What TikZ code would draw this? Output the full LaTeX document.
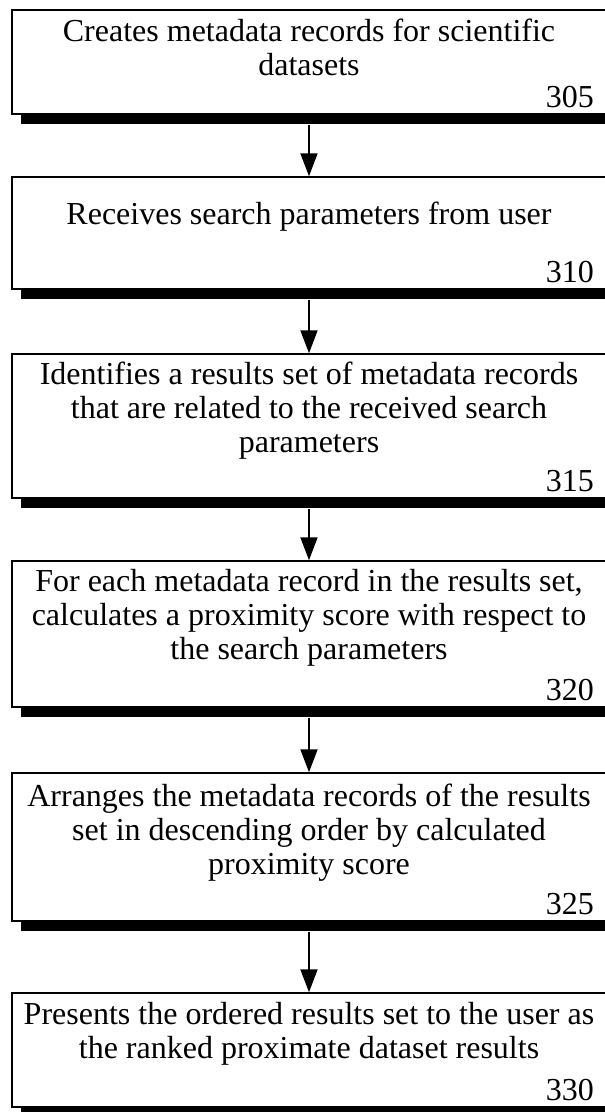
\documentclass[tikz,border=0pt]{standalone}
\usepackage{fontspec}
\setmainfont{Liberation Serif}
\usetikzlibrary{arrows.meta,shadows}
\tikzset{
  stepbox/.style={draw=black, line width=1.5pt, fill=white, minimum width=594pt,
    inner sep=0pt, drop shadow={shadow xshift=8.5pt, shadow yshift=-10pt, fill=black, opacity=1}},
  label/.style={anchor=base, inner sep=0pt, font=\fontsize{32}{34}\selectfont},
  refnum/.style={anchor=base east, inner sep=0pt, font=\fontsize{32}{34}\selectfont},
  flow/.style={line width=2pt, -{Triangle[width=17pt,length=23pt]}}
}
\begin{document}
\begin{tikzpicture}[x=1pt, y=-1pt]
\useasboundingbox (0,0) rectangle (605,1112);
\clip (0,0) rectangle (605,1112);

% process steps
\node[stepbox, minimum height=104pt] (b1) at (309,62) {};
\node[stepbox, minimum height=112pt] (b2) at (309,233) {};
\node[stepbox, minimum height=144pt] (b3) at (309,426) {};
\node[stepbox, minimum height=146pt] (b4) at (309,634) {};
\node[stepbox, minimum height=148pt] (b5) at (309,847) {};
\node[stepbox, minimum height=114pt] (b6) at (309,1050) {};

% step texts
\node[label] (t1a) at (309,41) {Creates metadata records for scientific};
\node[label] (t1b) at (309,75) {datasets};
\node[refnum] (n1) at (594,107) {305};

\node[label] (t2a) at (309,224) {Receives search parameters from user};
\node[refnum] (n2) at (594,282) {310};

\node[label] (t3a) at (309,384) {Identifies a results set of metadata records};
\node[label] (t3b) at (309,418) {that are related to the received search};
\node[label] (t3c) at (309,452) {parameters};
\node[refnum] (n3) at (594,491) {315};

\node[label] (t4a) at (309,591) {For each metadata record in the results set,};
\node[label] (t4b) at (309,625) {calculates a proximity score with respect to};
\node[label] (t4c) at (309,659) {the search parameters};
\node[refnum] (n4) at (594,700) {320};

\node[label] (t5a) at (309,806) {Arranges the metadata records of the results};
\node[label] (t5b) at (309,840) {set in descending order by calculated};
\node[label] (t5c) at (309,874) {proximity score};
\node[refnum] (n5) at (594,914) {325};

\node[label] (t6a) at (309,1024) {Presents the ordered results set to the user as};
\node[label] (t6b) at (309,1058) {the ranked proximate dataset results};
\node[refnum] (n6) at (594,1100) {330};

% connectors, leaving from under each shadow
\draw[flow] ([yshift=-10pt]b1.south) -- (b2.north);
\draw[flow] ([yshift=-10pt]b2.south) -- (b3.north);
\draw[flow] ([yshift=-10pt]b3.south) -- (b4.north);
\draw[flow] ([yshift=-10pt]b4.south) -- (b5.north);
\draw[flow] ([yshift=-10pt]b5.south) -- (b6.north);
\end{tikzpicture}
\end{document}
